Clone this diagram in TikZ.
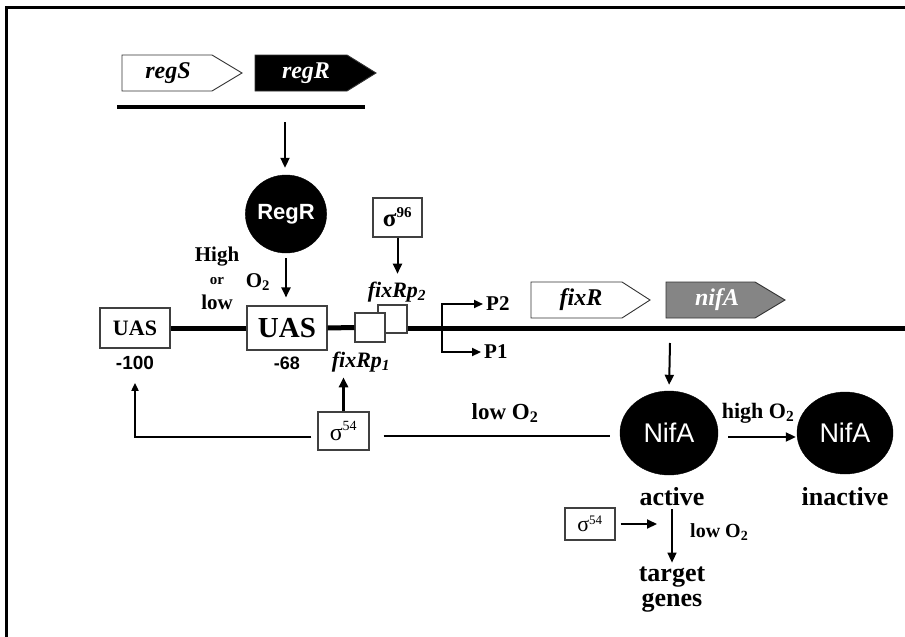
\documentclass[tikz,border=0pt]{standalone}
\usepackage{fontspec}
\setmainfont{Liberation Serif}
\newfontfamily\arialf{Liberation Sans}
\usetikzlibrary{arrows.meta,shapes.geometric}
\begin{document}
\begin{tikzpicture}[x=1pt,y=-1pt,
  lbl/.style={font=\fontsize{#1}{#1}\selectfont\bfseries, inner sep=0pt},
  genelbl/.style={font=\fontsize{24}{24}\selectfont\bfseries\itshape, inner sep=0pt},
  plbl/.style={font=\fontsize{22}{22}\selectfont\bfseries\itshape, inner sep=0pt},
  genepath/.style={draw=black!80, line width=0.9pt},
  sbox/.style={draw=black!75, line width=1.1pt, fill=white, inner sep=0pt},
  prot/.style={fill=black, draw=black, ellipse, inner sep=0pt, text=white},
  arr/.style={-{Triangle[length=10pt,width=9pt]}, line width=2pt},
  dna/.style={line width=5pt},
  thin/.style={line width=2.2pt}
]
\useasboundingbox (0,0) rectangle (905,637);
% frame
\draw[line width=3pt] (905,7) -- (6,7) -- (6,637);

% top genes
\draw[genepath, fill=white] (122,55) -- (212,55) -- (242,73) -- (212,91) -- (122,91) -- cycle;
\node[genelbl] (regS) at (168,73) {regS};
\draw[genepath, fill=black] (255,55) -- (347,55) -- (376,73) -- (347,91) -- (255,91) -- cycle;
\node[genelbl, text=white] (regRg) at (306,73) {regR};
\draw[line width=4.5pt] (117,107) -- (365,107);
\coordinate (barpt) at (285,122);

% RegR protein
\node[prot, minimum width=78pt, minimum height=78pt, font=\arialf\fontsize{22}{22}\selectfont\bfseries] (regR) at (286,214) {RegR};
\draw[arr, shorten >=7pt] (barpt) -- (barpt |- regR.north);

% boxes on DNA
\node[sbox, minimum width=70pt, minimum height=40pt, font=\fontsize{22}{22}\selectfont\bfseries] (uas100) at (135,328) {UAS};
\node[sbox, minimum width=80pt, minimum height=44pt, font=\fontsize{29}{29}\selectfont\bfseries] (uas68) at (287,328) {UAS};
\node[sbox, minimum width=29pt, minimum height=28pt] (fixp2) at (392.5,319) {};
\node[sbox, minimum width=30pt, minimum height=29pt] (fixp1) at (370,327.5) {};
\coordinate (dnaend) at (905,328);
\draw[dna] (uas100.east) -- (uas68.west);
\draw[dna] (uas68.east) -- (fixp1.west);
\draw[dna] (fixp2.east |- dnaend) -- (dnaend);

\node[lbl=20, font=\arialf\fontsize{19}{19}\selectfont\bfseries] (m100) at (135,363) {-100};
\node[lbl=20, font=\arialf\fontsize{18}{18}\selectfont\bfseries] (m68) at (287,363) {-68};

\node[lbl=21] (high) at (217,257) {High};
\node[lbl=15] (or) at (217,281) {or};
\node[lbl=21] (low) at (217,302) {low};
\node[lbl=21] (o2a) at (258,282) {O\textsubscript{2}};
\draw[arr, shorten <=5pt, shorten >=8pt] (regR.south) -- (regR.south |- uas68.north);

% sigma 96
\node[sbox, minimum width=49pt, minimum height=39pt, font=\fontsize{25}{25}\selectfont\bfseries] (s96) at (397.5,217.5) {σ\textsuperscript{\fontsize{15}{15}\selectfont 96}};
\node[plbl] (fixp2lbl) at (397,292) {fixRp\textsubscript{2}};
\draw[arr, shorten >=8pt] (s96.south) -- (s96.south |- fixp2lbl.north);
\node[plbl] (fixp1lbl) at (361,362) {fixRp\textsubscript{1}};

% sigma 54 upper
\node[sbox, minimum width=51pt, minimum height=38pt, font=\fontsize{24}{24}\selectfont] (s54a) at (343.5,431) {σ\textsuperscript{\fontsize{14}{14}\selectfont 54}};
\draw[arr, line width=3pt, shorten >=5pt] (s54a.north) -- (s54a.north |- fixp1lbl.south);

% promoters
\node[lbl=21, anchor=west] (p2) at (486,304) {P2};
\node[lbl=21, anchor=west] (p1) at (484,352) {P1};
\coordinate (prom) at (442,328);
\draw[thin, -{Triangle[length=9pt,width=8pt]}, shorten >=3pt] (prom) |- (p2.west);
\draw[thin, -{Triangle[length=9pt,width=8pt]}, shorten >=3pt] (prom) |- (p1.west);

% fixR / nifA genes
\draw[genepath, fill=white] (531,282) -- (622,282) -- (650,300) -- (622,318) -- (531,318) -- cycle;
\node[genelbl] (fixR) at (581,300) {fixR};
\draw[genepath, fill=black!48] (666,282) -- (755,282) -- (785,300) -- (755,318) -- (666,318) -- cycle;
\node[genelbl, text=white] (nifAg) at (717,300) {nifA};
\coordinate (nifAgene) at (670,343);

% NifA proteins
\node[prot, minimum width=98pt, minimum height=84pt, font=\arialf\fontsize{27}{27}\selectfont] (nifA1) at (669,433) {NifA};
\node[prot, minimum width=96pt, minimum height=82pt, font=\arialf\fontsize{27}{27}\selectfont] (nifA2) at (845,433) {NifA};
\draw[arr, shorten >=6pt] (nifAgene) -- (nifA1.north);
\draw[arr, shorten <=10pt, shorten >=1pt] (nifA1.east |- 0,437) -- (nifA2.west |- 0,437);
\node[lbl=22] (highO2) at (758,413) {high O\textsubscript{2}};
\node[lbl=26] (act) at (672,497) {active};
\node[lbl=26] (inact) at (845,497) {inactive};

% feedback and low O2 lines
\draw[thin, -{Triangle[length=8pt,width=7pt]}, shorten >=13pt] ([shift={(-6,6)}]s54a.west) -| (m100.south);
\draw[thin] ([shift={(14,5)}]s54a.east) -- ([shift={(-10,3)}]nifA1.west);
\node[lbl=23] (lowO2a) at (505,413) {low O\textsubscript{2}};

% lower sigma 54
\node[sbox, minimum width=50pt, minimum height=32pt, font=\fontsize{22}{22}\selectfont] (s54b) at (590,524) {σ\textsuperscript{\fontsize{13}{13}\selectfont 54}};
\node[lbl=26] (tgt1) at (672,577) {target};
\node[lbl=26] (tgt2) at (672,603) {genes};
\draw[arr, shorten <=5pt, shorten >=15pt] (s54b.east) -- (s54b.east -| act.south);
\draw[arr, line width=1.5pt, shorten <=3pt, shorten >=4pt] (act.south) -- (tgt1.north);
\node[lbl=20, anchor=west] (lowO2b) at (690,532) {low O\textsubscript{2}};
\end{tikzpicture}
\end{document}
